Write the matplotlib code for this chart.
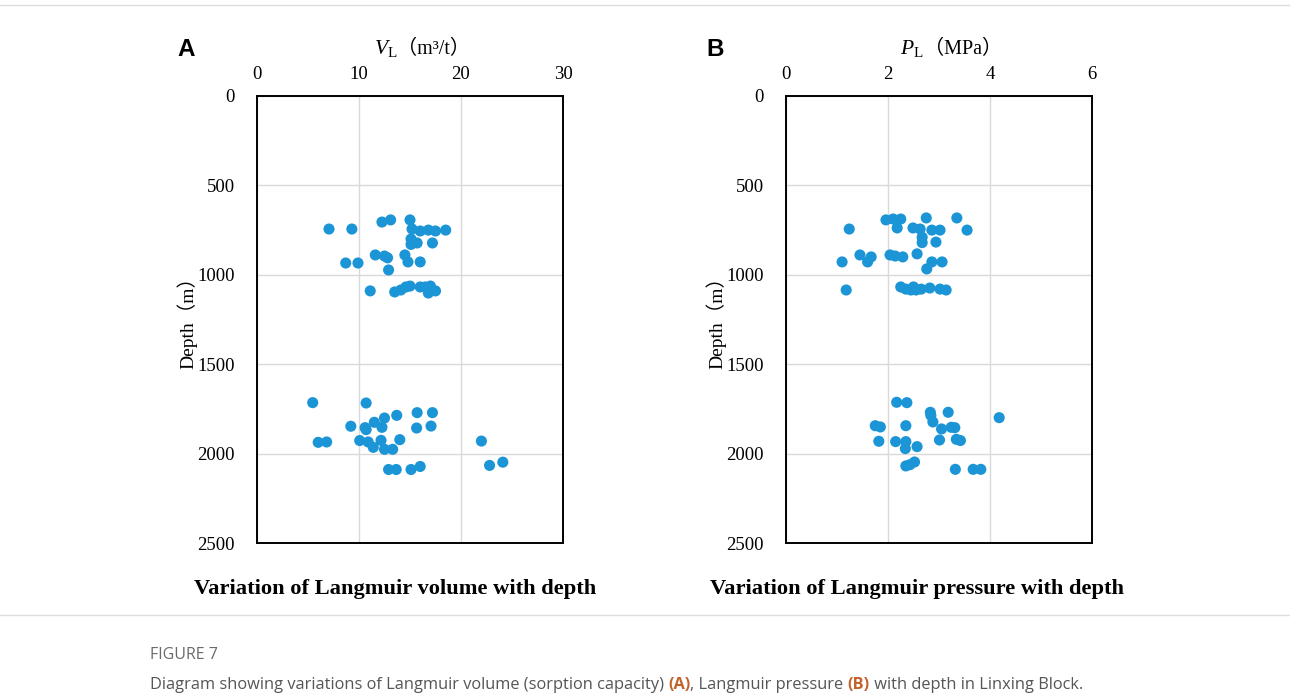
import matplotlib
matplotlib.use("Agg")
import matplotlib.pyplot as plt
from matplotlib.offsetbox import TextArea, HPacker, AnchoredOffsetbox

plt.rcParams["mathtext.fontset"] = "custom"
plt.rcParams["mathtext.rm"] = "Liberation Serif"
plt.rcParams["mathtext.it"] = "Liberation Serif:italic"

# Langmuir volume (m3/t) vs depth (m)
vl_vol = [12.25, 13.1, 15.0, 7.06, 9.3, 15.2, 16.0, 16.8, 17.5, 18.5,
          15.1, 15.1, 15.7, 17.2, 11.6, 12.5, 12.8, 14.5, 14.8, 16.0,
          8.7, 9.9, 12.9, 11.1, 13.5, 14.1, 14.6, 15.0, 16.0, 16.5,
          17.0, 16.8, 17.5,
          5.46, 10.7, 12.5, 13.7, 15.7, 17.2, 9.2, 10.6, 10.7, 11.5,
          12.25, 15.65, 17.06, 6.0, 6.83, 10.07, 10.9, 12.16, 14.0, 11.4,
          12.5, 13.3, 22.0, 22.8, 12.9, 13.65, 15.1, 16.0, 24.1]
vl_depth = [705, 693, 693, 744, 744, 744, 755, 750, 755, 750,
            800, 830, 822, 822, 889, 895, 905, 889, 928, 928,
            934, 934, 973, 1090, 1096, 1085, 1068, 1063, 1068, 1068,
            1063, 1102, 1090,
            1715, 1717, 1801, 1786, 1771, 1771, 1847, 1855, 1866, 1825,
            1853, 1857, 1846, 1937, 1935, 1927, 1935, 1926, 1922, 1965,
            1976, 1976, 1930, 2066, 2089, 2089, 2089, 2072, 2048]

# Langmuir pressure (MPa) vs depth (m)
pl_press = [1.96, 2.1, 2.25, 2.75, 3.35, 3.55, 1.24, 2.18, 2.49, 2.63,
            2.86, 3.02, 2.67, 2.67, 2.94, 1.45, 1.67, 2.04, 2.14, 2.29,
            2.57, 2.86, 3.06, 1.1, 1.6, 2.76, 1.18, 2.25, 2.35, 2.45,
            2.55, 2.5, 2.65, 2.82, 3.02, 3.14,
            2.17, 2.37, 2.83, 2.84, 2.88, 3.18, 4.18, 1.75, 1.85, 2.35,
            3.05, 3.24, 3.31, 1.82, 2.15, 2.35, 2.34, 2.57, 3.01, 3.34,
            3.42, 2.35, 2.43, 2.52, 3.32, 3.67, 3.82]
pl_depth = [693, 688, 688, 682, 682, 750, 744, 738, 738, 744,
            750, 750, 790, 820, 817, 889, 900, 889, 895, 900,
            883, 928, 928, 928, 928, 967, 1085, 1068, 1080, 1085,
            1085, 1068, 1080, 1074, 1080, 1085,
            1713, 1715, 1769, 1786, 1823, 1769, 1799, 1844, 1851, 1844,
            1862, 1853, 1855, 1931, 1933, 1933, 1972, 1961, 1924, 1920,
            1927, 2069, 2062, 2047, 2088, 2088, 2088]

depth_ticks = [0, 500, 1000, 1500, 2000, 2500]
panels = [
    ("A", vl_vol, vl_depth, [0, 10, 20, 30], r"$V_{\mathrm{L}}$", "（m³/t）",
     "Variation of Langmuir volume with depth"),
    ("B", pl_press, pl_depth, [0, 2, 4, 6], r"$P_{\mathrm{L}}$", "（MPa）",
     "Variation of Langmuir pressure with depth"),
]

W, H = 1290, 695
fig = plt.figure(figsize=(W / 100, H / 100), dpi=100)
blue = "#1b95d5"
serif = ["Liberation Serif", "Noto Sans CJK SC"]
lefts = [257, 786]
title_x = [395, 917]

for (letter, xs, ys, xt, sym, unit, title), left, tx in zip(panels, lefts, title_x):
    ax = fig.add_axes([left / W, 1 - 543 / H, 306 / W, 447 / H])
    ax.scatter(xs, ys, s=64, color=blue, edgecolors="none", zorder=3)
    ax.set_xlim(xt[0], xt[-1])
    ax.set_ylim(2500, 0)
    ax.set_xticks(xt)
    ax.set_yticks(depth_ticks)
    ax.xaxis.tick_top()
    ax.tick_params(length=0, labelsize=13.5)
    ax.tick_params(axis="x", pad=9.5)
    ax.tick_params(axis="y", pad=16)
    for lab in ax.get_xticklabels() + ax.get_yticklabels():
        lab.set_fontfamily("Liberation Serif")
    ax.grid(True, color="#d9d9d9", lw=1)
    ax.set_axisbelow(True)
    for sp in ax.spines.values():
        sp.set_linewidth(1.4)
        sp.set_color("black")

    fig.text((left - 70) / W, 1 - 318 / H, "Depth（m）", family=serif,
             fontsize=14, rotation=90, ha="center", va="center")

    # axis label on top: italic symbol with subscript, then the unit
    box = HPacker(children=[
        TextArea(sym, textprops=dict(fontsize=15.5)),
        TextArea(unit, textprops=dict(fontsize=14.5, family=serif)),
    ], align="baseline", pad=0, sep=0)
    ab = AnchoredOffsetbox(loc="center", child=box, frameon=False,
                           bbox_to_anchor=(0.54, 1.106),
                           bbox_transform=ax.transAxes, pad=0, borderpad=0)
    ax.add_artist(ab)

    fig.text((left - 71) / W, 1 - 49 / H, letter, fontsize=17.5,
             fontweight="bold", family="Liberation Sans", ha="center", va="center")
    fig.text(tx / W, 1 - 589 / H, title, fontsize=16.2,
             fontweight="bold", family="Liberation Serif", ha="center", va="center")

# page rules
fig.add_artist(plt.Line2D([0, 1], [1 - 5 / H, 1 - 5 / H], color="#dcdcdc", lw=1))
fig.add_artist(plt.Line2D([0, 1], [1 - 615 / H, 1 - 615 / H], color="#dcdcdc", lw=1))

# caption
fig.text(150 / W, 1 - 655 / H, "FIGURE 7", fontsize=11.5, color="#6a6a6a",
         family="Open Sans", va="center")
parts = [
    ("Diagram showing variations of Langmuir volume (sorption capacity) ", "normal", "#555555"),
    ("(A)", "bold", "#c4622d"),
    (", Langmuir pressure ", "normal", "#555555"),
    ("(B)", "bold", "#c4622d"),
    (" with depth in Linxing Block.", "normal", "#555555"),
]
fig.canvas.draw()
renderer = fig.canvas.get_renderer()
x = 150
for txt, weight, col in parts:
    t = fig.text(x / W, 1 - 685 / H, txt, fontsize=11.8, color=col,
                 fontweight=weight, family="Open Sans", va="center")
    x += t.get_window_extent(renderer).width

fig.savefig("out.png", dpi=100)
